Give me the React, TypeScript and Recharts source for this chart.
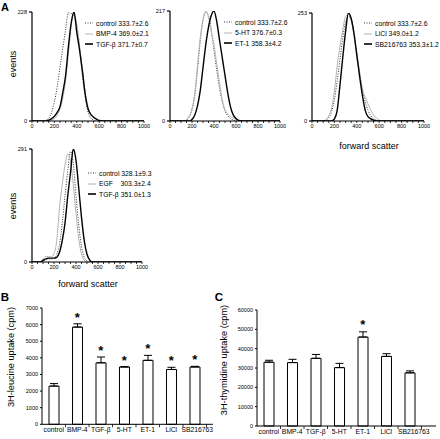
import React from 'react';
import { LineChart, Line, XAxis, YAxis, ComposedChart, Bar, ErrorBar } from 'recharts';

const FONT = '"Liberation Sans", Arial, sans-serif';

// forward scatter grid shared by the four histograms
const scatterX = [0, 75, 100, 125, 150, 175, 200, 225, 250, 275, 300, 325, 350, 375, 400, 425, 450, 475, 500, 525, 550, 575, 600, 625, 650, 1000];
const scatterTicks = [0, 50, 100, 150, 200, 250, 300, 350, 400, 450, 500, 550, 600, 650, 700, 750, 800, 850, 900, 950, 1000];

// panel A, top left
const a1Control = [0, 0, 0, 2, 6, 18, 40, 72, 113, 152, 192, 226, 225, 218, 200, 155, 95, 50, 18, 6, 2, 0, 0, 0, 0, 0];
const a1Bmp4 = [0, 0, 0, 0, 0, 2, 5, 12, 25, 48, 85, 140, 200, 226, 200, 155, 108, 60, 30, 14, 8, 4, 0, 0, 0, 0];
const a1Tgfb = [0, 0, 0, 0, 2, 5, 10, 18, 30, 60, 95, 155, 205, 228, 185, 148, 105, 56, 26, 14, 8, 4, 1, 0, 0, 0];
// panel A, top middle
const a2Control = [0, 0, 0, 0, 2, 8, 22, 50, 100, 158, 198, 215, 208, 180, 140, 100, 65, 38, 20, 10, 5, 2, 0, 0, 0, 0];
const a2Ht5 = [0, 0, 0, 0, 3, 10, 25, 55, 110, 165, 200, 217, 205, 175, 150, 112, 75, 42, 22, 14, 9, 6, 3, 1, 0, 0];
const a2Et1 = [0, 0, 0, 0, 0, 0, 3, 12, 30, 60, 105, 150, 185, 208, 217, 196, 160, 125, 90, 55, 28, 12, 5, 1, 0, 0];
// panel A, top right
const a3Control = [0, 0, 0, 2, 8, 22, 50, 95, 145, 195, 232, 245, 238, 205, 160, 115, 75, 45, 25, 12, 5, 2, 0, 0, 0, 0];
const a3Licl = [0, 0, 0, 3, 12, 30, 70, 130, 175, 215, 245, 250, 235, 200, 150, 110, 75, 55, 40, 25, 14, 7, 2, 0, 0, 0];
const a3Sb = [0, 0, 0, 0, 0, 0, 5, 25, 85, 150, 210, 253, 240, 205, 155, 105, 60, 25, 10, 5, 2, 0, 0, 0, 0, 0];
// panel A, bottom left
const a4Control = [0, 0, 3, 6, 8, 8, 10, 20, 45, 100, 170, 235, 285, 255, 170, 95, 40, 12, 3, 0, 0, 0, 0, 0, 0, 0];
const a4Egf = [0, 0, 8, 14, 14, 13, 22, 55, 140, 200, 250, 278, 260, 200, 125, 60, 20, 5, 0, 0, 0, 0, 0, 0, 0, 0];
const a4Tgfb = [0, 0, 4, 8, 10, 10, 10, 12, 25, 55, 100, 170, 230, 291, 262, 190, 115, 55, 20, 5, 0, 0, 0, 0, 0, 0];

// panels B and C
const treatments = ['control', 'BMP-4', 'TGF-β', '5-HT', 'ET-1', 'LiCl', 'SB216763'];
const leucine = [2300, 5850, 3700, 3450, 3850, 3300, 3450];
const leucineErr = [150, 200, 350, 20, 300, 130, 40];
const leucineSig = [false, true, true, true, true, true, true];
const leucineTicks = [0, 1000, 2000, 3000, 4000, 5000, 6000, 7000];
const thymidine = [33000, 32800, 35000, 30200, 46000, 36000, 27500];
const thymidineErr = [1000, 1700, 2000, 2200, 2700, 1400, 1000];
const thymidineSig = [false, false, false, false, true, false, false];
const thymidineTicks = [0, 10000, 20000, 30000, 40000, 50000, 60000];

type Kind = 'dot' | 'grey' | 'black';
type Curve = { name: string; values: number[]; kind: Kind };

const curveStyle: Record<Kind, any> = {
  dot: { stroke: '#333', strokeWidth: 1, strokeDasharray: '1 1.5' },
  grey: { stroke: '#b4b4b4', strokeWidth: 1 },
  black: { stroke: '#000', strokeWidth: 1.4 },
};

const tickFont = { fontSize: 5.5, fill: '#000', fontFamily: FONT };

const ScatterTick = (props: any) => {
  const { x, y, payload } = props;
  const major = payload.value % 200 === 0;
  return (
    <g>
      <line x1={x} x2={x} y1={y} y2={y + 2} stroke="#000" strokeWidth={0.8} />
      {major && (
        <text x={x} y={y + 3.5} dy="0.71em" textAnchor="middle" {...tickFont}>
          {payload.value}
        </text>
      )}
    </g>
  );
};

function Histogram(p: { x: number; y: number; w: number; h: number; max: number; curves: Curve[]; kx: number; ky: number }) {
  const data = scatterX.map((v, i) => {
    const row: any = { fs: v };
    p.curves.forEach((c, k) => (row['c' + k] = c.values[i]));
    return row;
  });
  return (
    <>
      <div style={{ position: 'absolute', left: p.x - 26, top: p.y - 6 }}>
        <LineChart width={p.w + 34} height={p.h + 20} data={data} margin={{ top: 6, right: 8, bottom: 0, left: 0 }}>
          <XAxis dataKey="fs" type="number" domain={[0, 1000]} ticks={scatterTicks} interval={0} height={14}
            tickSize={0} tickMargin={0} tickLine={false} tick={<ScatterTick />} stroke="#000" strokeWidth={1.2} />
          <YAxis width={26} domain={[0, p.max]} ticks={[0, p.max]} interval={0} allowDataOverflow tickSize={3} tickMargin={2}
            stroke="#000" strokeWidth={1.2} tick={tickFont} />
          {p.curves.map((c, k) => (
            <Line key={k} dataKey={'c' + k} type="monotone" dot={false} isAnimationActive={false} {...curveStyle[c.kind]} />
          ))}
        </LineChart>
      </div>
      {p.curves.map((c, k) => (
        <div key={k} style={{ position: 'absolute', left: p.kx, top: p.ky + k * 10.5 - 5, height: 10, display: 'flex', alignItems: 'center', fontSize: 6.8, whiteSpace: 'pre' }}>
          <svg width={8} height={10}>
            <line x1={0} x2={8} y1={5} y2={5} {...curveStyle[c.kind]} strokeWidth={c.kind === 'black' ? 1.6 : 1} />
          </svg>
          <span style={{ marginLeft: 3 }}>{c.name}</span>
        </div>
      ))}
    </>
  );
}

function Uptake(p: { x: number; y: number; w: number; h: number; yw: number; max: number; ticks: number[]; values: number[]; errs: number[]; sig: boolean[]; starOff: number; pad: number; labelShift: number }) {
  const band = (p.w - p.pad) / treatments.length;
  const data = treatments.map((t, i) => ({
    name: t,
    value: p.values[i],
    err: [0, p.errs[i]],
    star: p.sig[i] ? p.values[i] + p.errs[i] : null,
  }));
  const CatTick = (t: any) => (
    <g>
      <line x1={t.x + band / 2} x2={t.x + band / 2} y1={t.y} y2={t.y + 3} stroke="#000" strokeWidth={0.8} />
      <text x={t.x + (t.index === treatments.length - 1 ? p.labelShift : 0)} y={t.y + 3} dy="0.71em" textAnchor="middle"
        fontSize={6.8} fill="#000" fontFamily={FONT}>
        {t.payload.value}
      </text>
    </g>
  );
  const Star = (d: any) =>
    d.value == null ? (
      <g key={d.index} />
    ) : (
      <text key={d.index} x={d.cx} y={d.cy - p.starOff} textAnchor="middle" fontSize={13} fontWeight="bold" fill="#000" fontFamily={FONT}>
        *
      </text>
    );
  return (
    <div style={{ position: 'absolute', left: p.x - p.yw, top: p.y - 5 }}>
      <ComposedChart width={p.w + p.yw} height={p.h + 19} data={data} margin={{ top: 5, right: 0, bottom: 0, left: 0 }}>
        <XAxis dataKey="name" height={14} padding={{ left: 0, right: p.pad }} interval={0} tickSize={0} tickMargin={0}
          tickLine={false} tick={<CatTick />} stroke="#000" />
        <YAxis width={p.yw} domain={[0, p.max]} ticks={p.ticks} interval={0} tickSize={2} tickMargin={2} stroke="#000" tick={tickFont} />
        <Bar dataKey="value" barSize={10} fill="#fff" stroke="#000" strokeWidth={1} isAnimationActive={false}>
          <ErrorBar dataKey="err" width={4} stroke="#000" strokeWidth={1} direction="y" />
        </Bar>
        <Line dataKey="star" stroke="none" dot={<Star />} activeDot={false} isAnimationActive={false} />
      </ComposedChart>
    </div>
  );
}

const Rot = (p: { x: number; y: number; size: number; children: React.ReactNode }) => (
  <div style={{ position: 'absolute', left: p.x, top: p.y, transform: 'translate(-50%, -50%) rotate(-90deg)', fontSize: p.size, lineHeight: 1, whiteSpace: 'nowrap' }}>
    {p.children}
  </div>
);

const Txt = (p: { x: number; y: number; size: number; bold?: boolean; children: React.ReactNode }) => (
  <div style={{ position: 'absolute', left: p.x, top: p.y, transform: 'translate(-50%, -50%)', fontSize: p.size, lineHeight: 1, fontWeight: p.bold ? 'bold' : 'normal', whiteSpace: 'nowrap' }}>
    {p.children}
  </div>
);

export default function App() {
  return (
    <div style={{ position: 'absolute', left: 0, top: 0, width: 440, height: 439, background: '#fff', fontFamily: FONT, color: '#000', overflow: 'hidden' }}>
      <Histogram x={32} y={12} w={112} h={109} max={228} kx={85} ky={23}
        curves={[
          { name: 'control 333.7±2.6', values: a1Control, kind: 'dot' },
          { name: 'BMP-4 369.0±2.1', values: a1Bmp4, kind: 'grey' },
          { name: 'TGF-β 371.7±0.7', values: a1Tgfb, kind: 'black' },
        ]} />
      <Histogram x={170} y={11} w={110} h={110} max={217} kx={224} ky={22}
        curves={[
          { name: 'control 333.7±2.6', values: a2Control, kind: 'dot' },
          { name: '5-HT 376.7±0.3', values: a2Ht5, kind: 'grey' },
          { name: 'ET-1 358.3±4.2', values: a2Et1, kind: 'black' },
        ]} />
      <Histogram x={312} y={13} w={112} h={108} max={253} kx={364} ky={23}
        curves={[
          { name: 'control 333.7±2.6', values: a3Control, kind: 'dot' },
          { name: 'LiCl 349.0±1.2', values: a3Licl, kind: 'grey' },
          { name: 'SB216763 353.3±1.2', values: a3Sb, kind: 'black' },
        ]} />
      <Histogram x={32} y={149} w={110} h={113} max={291} kx={88} ky={173}
        curves={[
          { name: 'control 328.1±9.3', values: a4Control, kind: 'dot' },
          { name: 'EGF    303.3±2.4', values: a4Egf, kind: 'grey' },
          { name: 'TGF-β 351.0±1.3', values: a4Tgfb, kind: 'black' },
        ]} />

      <Uptake x={41.7} y={308.3} w={171} h={116.3} yw={30} max={7000} ticks={leucineTicks} pad={6.5} labelShift={2.5}
        values={leucine} errs={leucineErr} sig={leucineSig} starOff={2} />
      <Uptake x={256.7} y={310} w={179} h={116} yw={36} max={60000} ticks={thymidineTicks} pad={14.5} labelShift={4}
        values={thymidine} errs={thymidineErr} sig={thymidineSig} starOff={3} />

      <Txt x={5} y={6.5} size={11} bold>A</Txt>
      <Txt x={5} y={298} size={11.5} bold>B</Txt>
      <Txt x={219} y={298} size={11.5} bold>C</Txt>
      <Rot x={13} y={64} size={9}>events</Rot>
      <Rot x={13} y={206} size={9}>events</Rot>
      <Txt x={369} y={146} size={9}>forward scatter</Txt>
      <Txt x={88} y={284} size={9}>forward scatter</Txt>
      <Rot x={12} y={357} size={9.2}>3H-leucine uptake (cpm)</Rot>
      <Rot x={225} y={360} size={9.2}>3H-thymidine uptake (cpm)</Rot>
    </div>
  );
}
